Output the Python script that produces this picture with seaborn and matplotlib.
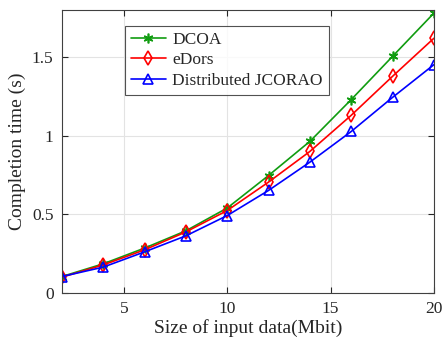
import matplotlib
matplotlib.use("Agg")
import matplotlib.pyplot as plt
import seaborn as sns
import pandas as pd

data_size = [2, 4, 6, 8, 10, 12, 14, 16, 18, 20]
dcoa = [0.104, 0.185, 0.285, 0.395, 0.54, 0.747, 0.964, 1.23, 1.505, 1.78]
edors = [0.100, 0.178, 0.274, 0.388, 0.524, 0.705, 0.90, 1.13, 1.378, 1.62]
jcorao = [0.104, 0.164, 0.261, 0.363, 0.492, 0.652, 0.832, 1.027, 1.244, 1.452]

series_names = ["DCOA", "eDors", "Distributed JCORAO"]
x_ticks = [5, 10, 15, 20]
y_ticks = [0, 0.5, 1, 1.5]
y_tick_labels = ["0", "0.5", "1", "1.5"]

df = pd.DataFrame({
    "size": data_size * 3,
    "time": dcoa + edors + jcorao,
    "method": [series_names[0]] * len(data_size)
    + [series_names[1]] * len(data_size)
    + [series_names[2]] * len(data_size),
})

sns.set_theme(style="whitegrid")
plt.rcParams["font.family"] = ["Liberation Serif", "DejaVu Serif"]

fig = plt.figure(figsize=(4.45, 3.45), dpi=100)
ax = fig.add_axes([0.139, 0.151, 0.836, 0.820])

palette = {"DCOA": "#109c10", "eDors": "#ff0000", "Distributed JCORAO": "#0000ff"}
markers = {"DCOA": (6, 2, 0), "eDors": "d", "Distributed JCORAO": "^"}

for name in series_names:
    sub = df[df["method"] == name]
    sns.lineplot(
        data=sub, x="size", y="time", ax=ax, color=palette[name],
        marker=markers[name], markersize=7,
        markerfacecolor="none" if name != "DCOA" else palette[name],
        markeredgecolor=palette[name], markeredgewidth=1.2,
        linewidth=1.2, label=name,
    )

ax.set_xlim(2, 20)
ax.set_ylim(0, 1.8)
ax.set_xticks(x_ticks)
ax.set_yticks(y_ticks)
ax.set_yticklabels(y_tick_labels)
ax.grid(True, color="#e3e3e3", linewidth=0.8)
ax.tick_params(axis="both", direction="in", length=4, width=0.8,
               labelsize=12.5, colors="#262626", labelcolor="#262626",
               top=True, right=True, bottom=True, left=True, pad=6)
for side in ax.spines.values():
    side.set_color("#404040")
    side.set_linewidth(0.8)

ax.set_xlabel("Size of input data(Mbit)", fontsize=14, color="#262626", labelpad=1)
ax.set_ylabel("Completion time (s)", fontsize=14, color="#262626", labelpad=4)

leg = ax.legend(loc="upper left", bbox_to_anchor=(0.169, 0.945), fontsize=12.5,
                frameon=True, fancybox=False, borderpad=0.35, labelspacing=0.25,
                handlelength=2.0, handletextpad=0.4, borderaxespad=0)
leg.get_frame().set_edgecolor("#262626")
leg.get_frame().set_linewidth(0.8)

fig.savefig("out.png", dpi=100)
